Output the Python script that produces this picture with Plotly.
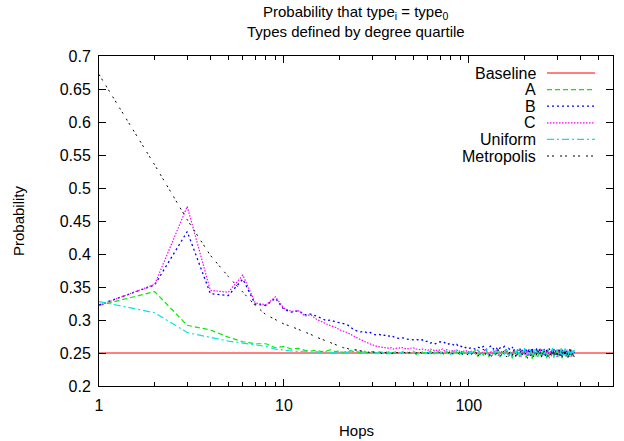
import plotly.graph_objects as go

# ---------------- data ----------------
hops_head = list(range(1, 41))          # 1..40
hops_mid = list(range(42, 101, 2))      # 42..100
hops_tail = list(range(104, 373, 4))    # 104..372
hops = hops_head + hops_mid + hops_tail

baseline_value = 0.25
baseline_hops = [1, 603]

a_head = [0.322, 0.343, 0.292, 0.285, 0.274, 0.267, 0.264, 0.264, 0.258, 0.260,
          0.256, 0.257, 0.254, 0.253, 0.254, 0.252, 0.253, 0.255, 0.252, 0.253,
          0.251, 0.252, 0.254, 0.251, 0.252, 0.250, 0.253, 0.251, 0.250, 0.252,
          0.251, 0.249, 0.252, 0.250, 0.251, 0.249, 0.252, 0.250, 0.251, 0.249]
a_mid = [0.251, 0.250, 0.252, 0.249, 0.251, 0.248, 0.252, 0.250, 0.251, 0.249,
         0.253, 0.248, 0.250, 0.252, 0.249, 0.251, 0.247, 0.252, 0.250, 0.249,
         0.253, 0.248, 0.251, 0.250, 0.247, 0.252, 0.249, 0.251, 0.248, 0.252]
a_tail = [0.249, 0.254, 0.245, 0.251, 0.247, 0.255, 0.244, 0.250, 0.253, 0.246,
          0.256, 0.243, 0.251, 0.248, 0.254, 0.245, 0.250, 0.242, 0.253, 0.247,
          0.255, 0.244, 0.251, 0.248, 0.257, 0.243, 0.250, 0.246, 0.254, 0.241,
          0.252, 0.247, 0.256, 0.244, 0.250, 0.253, 0.243, 0.254, 0.246, 0.251,
          0.242, 0.255, 0.247, 0.250, 0.245, 0.256, 0.243, 0.252, 0.248, 0.254,
          0.244, 0.250, 0.246, 0.257, 0.242, 0.251, 0.247, 0.255, 0.245, 0.250,
          0.243, 0.253, 0.247, 0.256, 0.244, 0.251, 0.248, 0.255]

b_head = [0.323, 0.353, 0.434, 0.340, 0.337, 0.362, 0.324, 0.322, 0.333, 0.316,
          0.312, 0.314, 0.308, 0.309, 0.306, 0.303, 0.299, 0.300, 0.297, 0.296,
          0.294, 0.293, 0.289, 0.285, 0.283, 0.282, 0.283, 0.281, 0.282, 0.279,
          0.278, 0.277, 0.278, 0.276, 0.277, 0.275, 0.276, 0.274, 0.275, 0.273]
b_mid = [0.272, 0.273, 0.271, 0.270, 0.270, 0.271, 0.269, 0.270, 0.267, 0.268,
         0.265, 0.266, 0.264, 0.266, 0.267, 0.265, 0.266, 0.263, 0.264, 0.262,
         0.263, 0.261, 0.263, 0.260, 0.261, 0.259, 0.260, 0.258, 0.259, 0.257]
b_tail = [0.258, 0.256, 0.259, 0.257, 0.260, 0.255, 0.258, 0.261, 0.256, 0.259,
          0.254, 0.258, 0.257, 0.260, 0.253, 0.257, 0.255, 0.259, 0.252, 0.256,
          0.254, 0.258, 0.251, 0.256, 0.253, 0.257, 0.250, 0.255, 0.252, 0.258,
          0.249, 0.254, 0.256, 0.250, 0.257, 0.251, 0.255, 0.248, 0.256, 0.252,
          0.254, 0.249, 0.257, 0.251, 0.253, 0.248, 0.256, 0.250, 0.254, 0.247,
          0.255, 0.251, 0.253, 0.249, 0.256, 0.250, 0.252, 0.247, 0.255, 0.251,
          0.253, 0.248, 0.256, 0.250, 0.252, 0.249, 0.254, 0.250]

c_head = [0.322, 0.354, 0.472, 0.345, 0.342, 0.368, 0.326, 0.323, 0.335, 0.318,
          0.313, 0.314, 0.306, 0.308, 0.301, 0.297, 0.294, 0.291, 0.289, 0.285,
          0.283, 0.281, 0.278, 0.275, 0.273, 0.270, 0.268, 0.266, 0.264, 0.262,
          0.261, 0.260, 0.259, 0.259, 0.258, 0.258, 0.257, 0.258, 0.256, 0.257]
c_mid = [0.257, 0.258, 0.256, 0.257, 0.258, 0.256, 0.255, 0.256, 0.255, 0.254,
         0.256, 0.255, 0.253, 0.255, 0.254, 0.256, 0.253, 0.255, 0.254, 0.252,
         0.254, 0.253, 0.255, 0.252, 0.254, 0.251, 0.253, 0.252, 0.254, 0.251]
c_tail = [0.253, 0.249, 0.255, 0.248, 0.252, 0.256, 0.247, 0.252, 0.249, 0.255,
          0.246, 0.253, 0.251, 0.248, 0.256, 0.245, 0.252, 0.249, 0.255, 0.246,
          0.251, 0.254, 0.244, 0.252, 0.248, 0.256, 0.245, 0.251, 0.254, 0.243,
          0.250, 0.255, 0.246, 0.252, 0.248, 0.257, 0.244, 0.251, 0.254, 0.245,
          0.250, 0.255, 0.242, 0.252, 0.247, 0.256, 0.245, 0.251, 0.254, 0.244,
          0.250, 0.255, 0.246, 0.252, 0.243, 0.254, 0.248, 0.251, 0.245, 0.255,
          0.247, 0.252, 0.244, 0.254, 0.248, 0.251, 0.246, 0.253]

uni_head = [0.328, 0.311, 0.281, 0.274, 0.268, 0.265, 0.262, 0.260, 0.256, 0.254,
            0.253, 0.252, 0.253, 0.251, 0.252, 0.250, 0.252, 0.251, 0.250, 0.252,
            0.250, 0.251, 0.253, 0.255, 0.254, 0.252, 0.251, 0.253, 0.250, 0.252,
            0.251, 0.250, 0.253, 0.251, 0.250, 0.252, 0.249, 0.251, 0.250, 0.252]
uni_mid = [0.250, 0.252, 0.249, 0.251, 0.253, 0.250, 0.248, 0.252, 0.250, 0.251,
           0.249, 0.253, 0.250, 0.248, 0.252, 0.251, 0.249, 0.254, 0.250, 0.248,
           0.252, 0.250, 0.253, 0.249, 0.251, 0.248, 0.252, 0.250, 0.254, 0.249]
uni_tail = [0.252, 0.247, 0.255, 0.246, 0.251, 0.256, 0.245, 0.250, 0.254, 0.247,
            0.257, 0.244, 0.251, 0.248, 0.255, 0.246, 0.252, 0.243, 0.254, 0.250,
            0.256, 0.245, 0.251, 0.247, 0.258, 0.244, 0.252, 0.248, 0.255, 0.245,
            0.250, 0.254, 0.243, 0.256, 0.247, 0.251, 0.245, 0.257, 0.248, 0.252,
            0.244, 0.255, 0.246, 0.251, 0.249, 0.258, 0.243, 0.252, 0.247, 0.256,
            0.245, 0.251, 0.248, 0.255, 0.244, 0.254, 0.246, 0.257, 0.247, 0.251,
            0.244, 0.255, 0.248, 0.252, 0.245, 0.256, 0.249, 0.257]

met_head = [0.672, 0.535, 0.452, 0.398, 0.366, 0.342, 0.322, 0.308, 0.300, 0.294,
            0.290, 0.286, 0.282, 0.278, 0.274, 0.271, 0.267, 0.265, 0.262, 0.260,
            0.258, 0.257, 0.255, 0.255, 0.254, 0.253, 0.253, 0.252, 0.251, 0.252,
            0.251, 0.250, 0.251, 0.249, 0.251, 0.250, 0.252, 0.249, 0.250, 0.251]
met_mid = [0.250, 0.252, 0.249, 0.251, 0.248, 0.250, 0.252, 0.249, 0.251, 0.250,
           0.248, 0.251, 0.250, 0.253, 0.249, 0.250, 0.247, 0.251, 0.250, 0.252,
           0.248, 0.250, 0.251, 0.249, 0.252, 0.248, 0.250, 0.251, 0.247, 0.250]
met_tail = [0.248, 0.254, 0.245, 0.251, 0.256, 0.246, 0.250, 0.243, 0.252, 0.248,
            0.255, 0.245, 0.250, 0.254, 0.244, 0.249, 0.253, 0.246, 0.256, 0.243,
            0.250, 0.247, 0.254, 0.245, 0.251, 0.248, 0.242, 0.253, 0.246, 0.255,
            0.244, 0.250, 0.247, 0.254, 0.245, 0.251, 0.243, 0.249, 0.253, 0.246,
            0.255, 0.244, 0.250, 0.247, 0.253, 0.245, 0.254, 0.243, 0.249, 0.252,
            0.246, 0.255, 0.245, 0.250, 0.244, 0.253, 0.247, 0.254, 0.245, 0.250,
            0.243, 0.252, 0.247, 0.254, 0.245, 0.250, 0.247, 0.244]

series_names = ["Baseline", "A", "B", "C", "Uniform", "Metropolis"]
x_tick_vals = [1, 10, 100]
x_tick_text = ["1", "10", "100"]
y_tick_vals = [0.2, 0.25, 0.3, 0.35, 0.4, 0.45, 0.5, 0.55, 0.6, 0.65, 0.7]

title_line1 = "Probability that type<sub>i</sub> = type<sub>0</sub>"
title_line2 = "Types defined by degree quartile"
x_title = "Hops"
y_title = "Probability"

# ---------------- styles ----------------
styles = {
    "Baseline":   dict(color="#ff0000", dash="solid", width=1),
    "A":          dict(color="#00ee00", dash="5px,3px", width=1.2),
    "B":          dict(color="#0000ff", dash="2px,3px", width=1.3),
    "C":          dict(color="#ff00ff", dash="1.5px,1.5px", width=1.2),
    "Uniform":    dict(color="#00e5e5", dash="7px,3px,2px,3px", width=1.2),
    "Metropolis": dict(color="#000000", dash="2px,3px,2px,6px", width=1),
}

FONT = "Liberation Sans, Arial, sans-serif"
TEXT_SIZE = 15
TICK_SIZE = 16
FIG_W, FIG_H = 624, 441

fig = go.Figure()
data = {
    "A": a_head + a_mid + a_tail,
    "B": b_head + b_mid + b_tail,
    "C": c_head + c_mid + c_tail,
    "Uniform": uni_head + uni_mid + uni_tail,
    "Metropolis": met_head + met_mid + met_tail,
}

fig.add_trace(go.Scatter(x=baseline_hops, y=[baseline_value] * len(baseline_hops),
                         mode="lines", name="Baseline", line=styles["Baseline"],
                         showlegend=False))
for name in ["A", "B", "C", "Uniform", "Metropolis"]:
    fig.add_trace(go.Scatter(x=hops, y=data[name], mode="lines", name=name,
                             line=styles[name], showlegend=False))

# ---------------- layout helpers (pixel -> paper) ----------------
L, R, T, B = 99, 613, 56, 386          # plot-area edges in pixels
W, H = R - L, B - T
def px(x):
    return (x - L) / W
def py(y):
    return (B - y) / H

# gnuplot-style key: right-aligned text followed by a line sample
key_y0, key_dy = 73, 16.6
for i, name in enumerate(series_names):
    yy = py(key_y0 + i * key_dy)
    fig.add_annotation(x=px(538), y=yy, xref="paper", yref="paper", text=name,
                       showarrow=False, xanchor="right", yanchor="middle",
                       font=dict(family=FONT, size=TICK_SIZE, color="black"))
    st = styles[name]
    fig.add_shape(type="line", xref="paper", yref="paper",
                  x0=px(547), x1=px(595), y0=yy, y1=yy,
                  line=dict(color=st["color"], dash=st["dash"], width=st["width"]))

# titles
fig.add_annotation(x=0.5, y=py(13), xref="paper", yref="paper", text=title_line1,
                   showarrow=False, xanchor="center", yanchor="middle",
                   font=dict(family=FONT, size=TEXT_SIZE, color="black"))
fig.add_annotation(x=0.5, y=py(32), xref="paper", yref="paper", text=title_line2,
                   showarrow=False, xanchor="center", yanchor="middle",
                   font=dict(family=FONT, size=TEXT_SIZE, color="black"))
fig.add_annotation(x=0.5, y=py(431), xref="paper", yref="paper", text=x_title,
                   showarrow=False, xanchor="center", yanchor="middle",
                   font=dict(family=FONT, size=TEXT_SIZE, color="black"))
fig.add_annotation(x=px(18), y=py(221), xref="paper", yref="paper", text=y_title,
                   showarrow=False, xanchor="center", yanchor="middle", textangle=-90,
                   font=dict(family=FONT, size=TEXT_SIZE, color="black"))

minor_x = [v * m for v in (1, 10, 100) for m in range(2, 10) if v * m < 603]

fig.update_layout(
    width=FIG_W, height=FIG_H,
    margin=dict(l=L, r=FIG_W - R, t=T, b=FIG_H - B, autoexpand=False),
    paper_bgcolor="white", plot_bgcolor="white",
    font=dict(family=FONT, size=TICK_SIZE, color="black"),
    showlegend=False,
    xaxis=dict(type="log", range=[0, 2.78], showgrid=False, zeroline=False, automargin=False,
               showline=True, linecolor="black", linewidth=1, mirror="ticks",
               ticks="inside", ticklen=7, tickcolor="black",
               tickvals=x_tick_vals, ticktext=x_tick_text, ticklabelstandoff=5,
               minor=dict(ticks="inside", ticklen=4, tickcolor="black", tickvals=minor_x, showgrid=False)),
    yaxis=dict(range=[0.2, 0.7], showgrid=False, zeroline=False, automargin=False,
               showline=True, linecolor="black", linewidth=1, mirror="ticks",
               ticks="inside", ticklen=7, tickcolor="black",
               tickvals=y_tick_vals, ticklabelstandoff=4),
)

# remove the default 8px page margin so the figure sits at the window's top-left corner
fig.write_html("out.html",
               config={"displayModeBar": False},
               post_script="document.body.style.margin='0';document.body.style.overflow='hidden';")
